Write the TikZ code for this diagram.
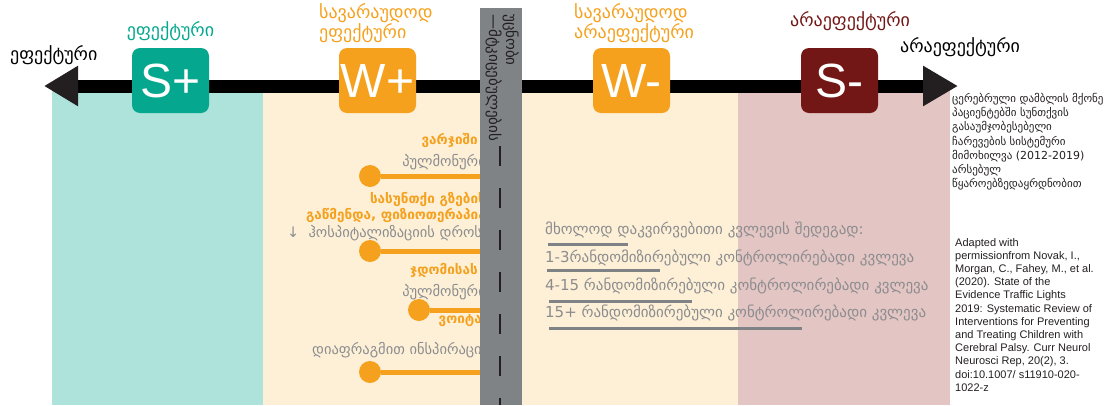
\documentclass[tikz,border=0pt]{standalone}
\usepackage{fontspec}
\setmainfont{DejaVu Sans}
\newfontfamily\arialfont{Liberation Sans}
\usetikzlibrary{positioning,arrows.meta}
\definecolor{sgreen}{HTML}{05A88F}
\definecolor{lgreen}{HTML}{ADE3DA}
\definecolor{worange}{HTML}{F5A11E}
\definecolor{cream}{HTML}{FDF0D7}
\definecolor{sred}{HTML}{731716}
\definecolor{pinkish}{HTML}{E3C5C4}
\definecolor{roadgray}{HTML}{7F8386}
\definecolor{txtgray}{HTML}{8C8C8E}
\definecolor{darkline}{HTML}{231F20}
\tikzset{
	signbox/.style={rectangle, rounded corners=8pt, minimum width=77pt, minimum height=65pt, inner sep=0pt, text=white, font=\arialfont\fontsize{48}{48}\selectfont},
	toplabel/.style={align=left, inner sep=0pt, font=\fontsize{18}{15}\selectfont},
	itemhead/.style={text=worange, align=right, inner sep=0pt, font=\bfseries\fontsize{13.5}{16}\selectfont},
	itemnote/.style={text=txtgray, inner sep=0pt, font=\fontsize{14.5}{16}\selectfont},
	evidtext/.style={text=txtgray, anchor=west, inner sep=0pt, font=\fontsize{15}{16}\selectfont},
	evidbar/.style={draw=roadgray, line width=3pt},
	dot/.style={circle, fill=worange, minimum size=22pt, inner sep=0pt},
	stem/.style={draw=worange, line width=5pt},
}

\begin{document}
\begin{tikzpicture}[x=1pt, y=-1pt]
	\useasboundingbox (0,0) rectangle (1120,405);
	% background zones
	\fill[lgreen] (52,90) rectangle (263,405);
	\fill[cream] (263,90) rectangle (738,405);
	\fill[pinkish] (738,89) rectangle (950,405);

	% left list (probably effective)
	\node[itemhead, anchor=east] (exer) at (478,140) {ვარჯიში};
	\node[itemnote, anchor=east] (pulm1) at (486,162) {პულმონური};
	\node[dot] (d1) at (370,176) {};
	\coordinate (e1) at (482,176);
	\node[itemhead, anchor=east] (airway) at (486,207) {სასუნთქი გზების\\გაწმენდა, ფიზიოთერაპია};
	\node[itemnote, anchor=west] (hosp) at (287,233) {↓\ \ ჰოსპიტალიზაციის დროს};
	\node[dot] (d2) at (370,251) {};
	\coordinate (e2) at (482,251);
	\node[itemhead, anchor=east] (sit) at (478,270) {ჯდომისას};
	\node[itemnote, anchor=east] (pulm2) at (486,292) {პულმონური};
	\node[dot] (d3) at (419,310) {};
	\coordinate (e3) at (482,310);
	\node[itemhead, anchor=east] (vojta) at (482,321) {ვოიტა};
	\node[itemnote, anchor=west] (diaph) at (312,350) {დიაფრაგმით ინსპირაცია};
	\node[dot] (d4) at (370,372) {};
	\coordinate (e4) at (482,372);
	\foreach \i in {1,...,4}
		\draw[stem] (d\i) -- (e\i);

	% evidence legend
	\node[evidtext] (obs) at (545,230) {მხოლოდ დაკვირვებითი კვლევის შედეგად:};
	\draw[evidbar] (548,244) -- (628,244);
	\node[evidtext] (rct1) at (545,258) {1-3რანდომიზირებული კონტროლირებადი კვლევა};
	\draw[evidbar] (547,270) -- (660,270);
	\node[evidtext] (rct2) at (545,286) {4-15 რანდომიზირებული კონტროლირებადი კვლევა};
	\draw[evidbar] (549,301) -- (692,301);
	\node[evidtext] (rct3) at (545,313) {15+ რანდომიზირებული კონტროლირებადი კვლევა};
	\draw[evidbar] (549,328) -- (802,328);

	% scale arrow
	\coordinate (axl) at (44,86);
	\coordinate (axr) at (958,86);
	\draw[line width=13pt, {Triangle[length=34pt,width=38pt,color=darkline]}-{Triangle[length=35pt,width=38pt,color=darkline]}] (axl) -- (axr);
	\node[toplabel, anchor=south west] (effl) at (10,65) {ეფექტური};
	\node[toplabel, anchor=south west] (ineffr) at (900,57) {არაეფექტური};

	% road in the middle
	\fill[roadgray] (480,8) rectangle (522,405);
	\node[rotate=-90, anchor=north west, align=left, inner sep=0pt, text=darkline, font=\fontsize{15}{16}\selectfont] (road) at (519,14) {უცნობი\\—მტკიცებულების};
	\coordinate (r1) at (500,146);
	\coordinate (r2) at (500,405);
	\draw[darkline, line width=2pt, dash pattern=on 20pt off 22pt] (r1) -- (r2);

	% signs
	\node[signbox, fill=sgreen] (splus) at (170.5,80.5) {S+};
	\node[signbox, fill=worange] (wplus) at (377.5,80.5) {W+};
	\node[signbox, fill=worange] (wminus) at (631.5,80.5) {W-};
	\node[signbox, fill=sred] (sminus) at (839.5,80.5) {S-};
	\node[toplabel, text=sgreen, above=7pt of splus] (efflab) {ეფექტური};
	\node[toplabel, text=worange, anchor=south west] (wpluslab) at (319,43) {სავარაუდოდ\\ეფექტური};
	\node[toplabel, text=worange, anchor=south west] (wminuslab) at (574,43) {სავარაუდოდ\\არაეფექტური};
	\node[toplabel, text=sred, anchor=south west] (sminuslab) at (790,31) {არაეფექტური};

	% notes on the right
	\node[anchor=north west, align=left, inner sep=0pt, text=darkline, font=\fontsize{11}{14.2}\selectfont] (scope) at (952,93) {ცერებრული დამბლის მქონე\\პაციენტებში სუნთქვის\\გასაუმჯობესებელი\\ჩარევების სისტემური\\მიმოხილვა (2012-2019)\\არსებულ\\წყაროებზედაყრდნობით};
	\node[anchor=north west, align=left, inner sep=0pt, text=darkline, font=\arialfont\fontsize{11}{13.2}\selectfont] (source) at (955,238) {Adapted with\\permissionfrom Novak, I.,\\Morgan, C., Fahey, M., et al.\\(2020). State of the\\Evidence Traffic Lights\\2019: Systematic Review of\\Interventions for Preventing\\and Treating Children with\\Cerebral Palsy. Curr Neurol\\Neurosci Rep, 20(2), 3.\\doi:10.1007/ s11910-020-\\1022-z};
\end{tikzpicture}
\end{document}
